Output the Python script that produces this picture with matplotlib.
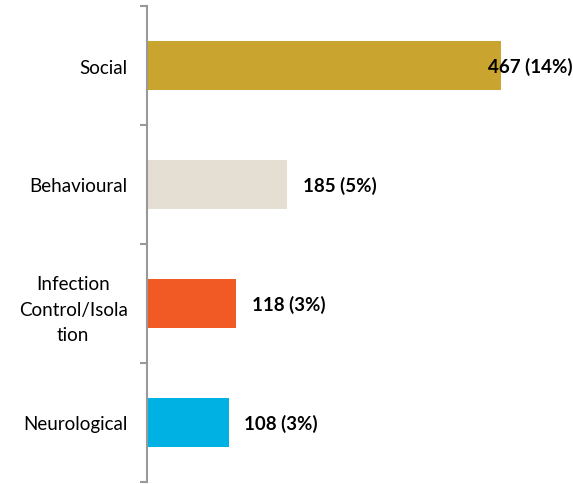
import matplotlib.pyplot as plt
import numpy as np

plt.rcParams["font.family"] = ["Lato", "DejaVu Sans"]

categories = ["Social", "Behavioural", "Infection\nControl/Isola\ntion", "Neurological"]
counts = [467, 185, 118, 108]
labels = ["467 (14%)", "185 (5%)", "118 (3%)", "108 (3%)"]
colors = ["#C9A42E", "#E4DED3", "#F15A24", "#00B2E3"]

fig = plt.figure(figsize=(5.73, 4.85), dpi=100)
ax = fig.add_axes([147 / 573, 2 / 485, 1 - 147 / 573, 476 / 485])

y = np.arange(len(categories))
ax.barh(y, counts, height=0.41, color=colors)
ax.set_xlim(0, 562)
ax.set_ylim(len(categories) - 0.5, -0.5)

# value labels, pushed back inside the figure when they would overflow
for yi, v, lab in zip(y, counts, labels):
    if v > 400:
        ax.annotate(lab, xy=(1.0, yi), xycoords=("axes fraction", "data"),
                    ha="right", va="center", fontsize=13.5, fontweight="bold",
                    annotation_clip=False)
    else:
        ax.annotate(lab, xy=(v, yi), xytext=(11, 0), textcoords="offset points",
                    ha="left", va="center", fontsize=13.5, fontweight="bold")

ax.set_yticks(y)
ax.set_yticklabels(categories, fontsize=13.5, multialignment="center", linespacing=1.6)
ax.tick_params(axis="y", which="major", length=0, pad=14)
ax.set_yticks(np.arange(len(categories) + 1) - 0.5, minor=True)
ax.tick_params(axis="y", which="minor", length=5, width=1.5, color="#999999")
ax.set_xticks([])

for s in ["top", "right", "bottom"]:
    ax.spines[s].set_visible(False)
ax.spines["left"].set_color("#999999")
ax.spines["left"].set_linewidth(1.5)

fig.savefig("out.png", dpi=100, facecolor="white")
